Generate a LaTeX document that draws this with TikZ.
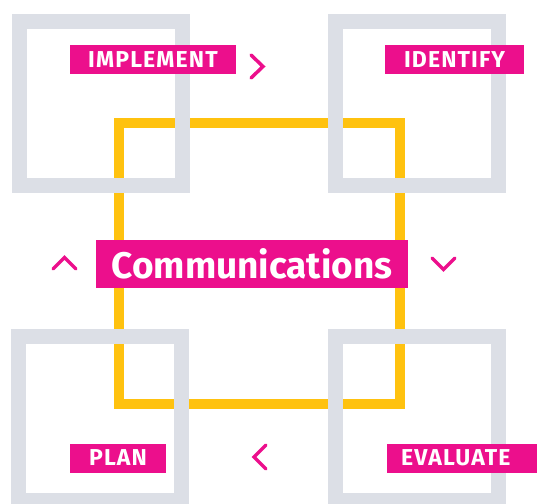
\documentclass[tikz,border=0pt]{standalone}
\usepackage{fontspec}
\setmainfont{Fira Sans}
\definecolor{mag}{HTML}{EC0F8C}
\definecolor{gry}{HTML}{DCDFE6}
\definecolor{yel}{HTML}{FFC20F}
\newfontfamily\labfont[LetterSpace=5]{Fira Sans}
\tikzset{
  graysq/.style={draw=gry, line width=15pt},
  yelsq/.style={draw=yel, line width=10pt},
  labbox/.style={fill=mag, text=white, font=\labfont\bfseries\fontsize{23}{23}\selectfont, inner sep=0pt, minimum height=29pt},
  chev/.style={draw=mag, line width=3.5pt, line cap=round, line join=miter},
}
\begin{document}
\begin{tikzpicture}[x=1pt,y=-1pt]
\useasboundingbox (0,0) rectangle (537,503);
\clip (0,0) rectangle (537,503);
% yellow square
\draw[yelsq] (119,123) rectangle (400,404);
% gray squares
\draw[graysq] (19,21.5) rectangle (182,185);
\draw[graysq] (335,21.5) rectangle (498,185);
\draw[graysq] (18,336.5) rectangle (181,500.5);
\draw[graysq] (335,336.5) rectangle (498,500.5);
% labels
\node[labbox, minimum width=166pt] (impl) at (153,59.5) {IMPLEMENT};
\node[labbox, minimum width=139pt] (iden) at (454.5,59.5) {IDENTIFY};
\node[labbox, minimum width=96pt] (plan) at (118,458) {PLAN};
\node[labbox, anchor=west, text width=136pt, align=left, inner xsep=14pt] (eval) at (387,458) {EVALUATE};
\node[fill=mag, text=white, font=\fontsize{37}{37}\selectfont\bfseries, inner sep=0pt, minimum width=312pt, minimum height=48pt] (comm) at (252,264) {Communications};
% chevrons
\draw[chev] (251,55) -- (263,66.5) -- (251,78);
\draw[chev] (53,269) -- (64.5,257.5) -- (76,269);
\draw[chev] (432,258) -- (443.5,269.5) -- (455,258);
\draw[chev] (266,445) -- (254,457) -- (266,469);
\end{tikzpicture}
\end{document}
